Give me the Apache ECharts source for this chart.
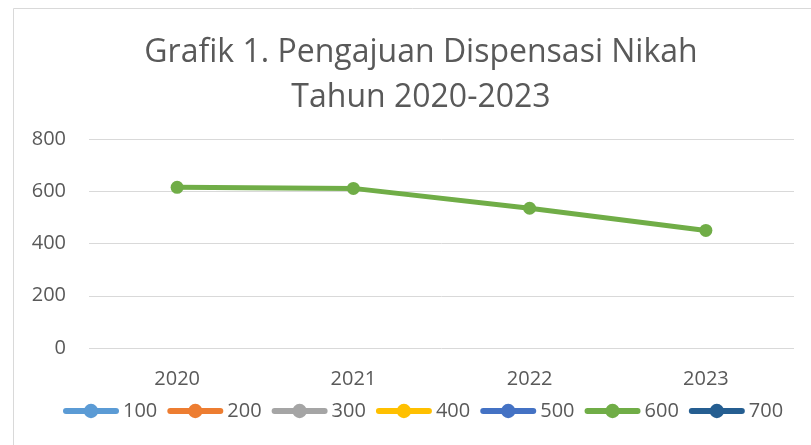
<!DOCTYPE html>
<html>
<head>
<meta charset="utf-8">
<script src="https://cdn.jsdelivr.net/npm/echarts@6/dist/echarts.min.js"></script>
<style>
  html, body { margin: 0; padding: 0; background: #fff; }
  #chart { width: 811px; height: 445px; }
</style>
</head>
<body>
<div id="chart"></div>
<script>
var years = ['2020', '2021', '2022', '2023'];
var seriesNames = ['100', '200', '300', '400', '500', '600', '700'];
var seriesColors = ['#5B9BD5', '#ED7D31', '#A5A5A5', '#FFC000', '#4472C4', '#70AD47', '#255E91'];
var values600 = [615, 611, 535, 450];
var yTicks = { min: 0, max: 800, interval: 200 };

var myChart = echarts.init(document.getElementById('chart'));
var font = 'Open Sans';

var series = seriesNames.map(function (name, i) {
  return {
    name: name,
    type: 'line',
    data: name === '600' ? values600 : [],
    symbol: 'circle',
    symbolSize: 13,
    color: seriesColors[i],
    lineStyle: { width: 5, color: seriesColors[i], cap: 'round' },
    itemStyle: { color: seriesColors[i] }
  };
});

myChart.setOption({
  animation: false,
  title: {
    text: 'Grafik 1. Pengajuan Dispensasi Nikah\nTahun 2020-2023',
    left: 416,
    top: 25,
    textAlign: 'center',
    textStyle: {
      fontFamily: font,
      fontSize: 32,
      fontWeight: 'normal',
      color: '#595959',
      lineHeight: 45
    }
  },
  graphic: [{
    type: 'rect',
    shape: { x: 13.5, y: 8.5, width: 830, height: 470 },
    style: { fill: 'none', stroke: '#d9d9d9', lineWidth: 1 },
    silent: true
  }],
  grid: { left: 89, right: 17, top: 139, bottom: 97 },
  legend: {
    data: seriesNames,
    left: 58,
    top: 396,
    itemWidth: 50,
    itemHeight: 18,
    itemGap: 10,
    lineStyle: { width: 6, cap: 'round' },
    textStyle: { fontFamily: font, fontSize: 20, color: '#595959', padding: [0, 0, 0, 2] }
  },
  xAxis: {
    type: 'category',
    data: years,
    axisLine: { show: false },
    axisTick: { show: false },
    axisLabel: { fontFamily: font, fontSize: 20, color: '#595959', margin: 21 }
  },
  yAxis: {
    type: 'value',
    min: yTicks.min,
    max: yTicks.max,
    interval: yTicks.interval,
    axisLine: { show: false },
    axisTick: { show: false },
    splitLine: { lineStyle: { color: '#d9d9d9', width: 1 } },
    axisLabel: { fontFamily: font, fontSize: 20, color: '#595959', margin: 23 }
  },
  series: series
});
</script>
</body>
</html>
